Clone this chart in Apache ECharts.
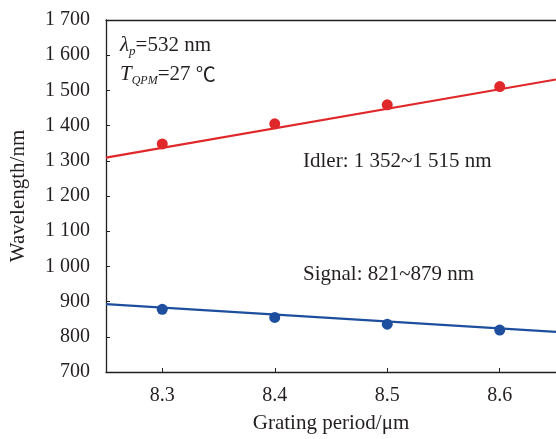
<!DOCTYPE html>
<html>
<head>
<meta charset="utf-8">
<script src="https://cdn.jsdelivr.net/npm/echarts@6/dist/echarts.min.js"></script>
<style>html,body{margin:0;padding:0;background:#fff;}#c{width:556px;height:439px;}</style>
</head>
<body>
<div id="c"></div>
<script>
const period = [8.3, 8.4, 8.5, 8.6];
const idler = [1348, 1405, 1459, 1511];
const signal = [878, 855, 836, 819];
const fitX = [8.25, 8.65];
const idlerFit = [1309, 1531];
const signalFit = [893, 814];
const xTicks = [8.3, 8.4, 8.5, 8.6];

const FONT = "'Times New Roman', 'Liberation Serif', 'DejaVu Serif', serif";
const TXT = '#231f20';
const RED = '#e0282a';
const BLUE = '#1e4f9e';

function fmtY(v) {
  const s = String(v);
  return s.length > 3 ? s.slice(0, s.length - 3) + ' ' + s.slice(-3) : s;
}
function pairs(xs, ys) { return xs.map((x, i) => [x, ys[i]]); }

const chart = echarts.init(document.getElementById('c'), null, {renderer: 'canvas'});
const base = {fontFamily: FONT, fontSize: 21, color: TXT};
chart.setOption({
  animation: false,
  backgroundColor: '#fff',
  textStyle: {fontFamily: FONT},
  grid: {left: 104, right: -3, top: 20, bottom: 66},
  xAxis: [{
    type: 'value', min: 8.25, max: 8.65,
    name: 'Grating period/\u03bcm', nameLocation: 'middle', nameGap: 41,
    nameTextStyle: base,
    axisLine: {show: true, onZero: false, lineStyle: {color: TXT, width: 1.3}},
    axisTick: {show: true, inside: true, length: 4, lineStyle: {color: TXT}, customValues: xTicks},
    axisLabel: {fontFamily: FONT, fontSize: 20, color: TXT, margin: 14, customValues: xTicks,
      formatter: v => v.toFixed(1)},
    splitLine: {show: false}
  }, {
    type: 'value', min: 8.25, max: 8.65, position: 'top',
    axisLine: {show: true, onZero: false, lineStyle: {color: TXT, width: 1.3}},
    axisTick: {show: false}, axisLabel: {show: false}, splitLine: {show: false}
  }],
  yAxis: {
    type: 'value', min: 700, max: 1700, interval: 100,
    name: 'Wavelength/nm', nameLocation: 'middle', nameGap: 77,
    nameTextStyle: base,
    axisLine: {show: true, lineStyle: {color: TXT, width: 1.3}},
    axisTick: {show: true, inside: true, length: 4, lineStyle: {color: TXT}},
    axisLabel: {fontFamily: FONT, fontSize: 20, color: TXT, margin: 16, formatter: fmtY},
    splitLine: {show: false}
  },
  series: [
    {type: 'line', data: pairs(fitX, idlerFit), symbol: 'none', lineStyle: {color: RED, width: 2.2}, z: 2},
    {type: 'line', data: pairs(fitX, signalFit), symbol: 'none', lineStyle: {color: BLUE, width: 2.2}, z: 2},
    {type: 'scatter', data: pairs(period, idler), symbolSize: 11, itemStyle: {color: RED, opacity: 1}, z: 3},
    {type: 'scatter', data: pairs(period, signal), symbolSize: 11, itemStyle: {color: BLUE, opacity: 1}, z: 3}
  ],
  graphic: [
    {type: 'text', left: 120, top: 35, style: {
      text: '{i|\u03bb}{s|p}{n|=532 nm}',
      rich: {
        i: {fontFamily: FONT, fontSize: 21, fontStyle: 'italic', fill: TXT, lineHeight: 25, verticalAlign: 'middle'},
        s: {fontFamily: FONT, fontSize: 13, fontStyle: 'italic', fill: TXT, lineHeight: 13, verticalAlign: 'bottom'},
        n: {fontFamily: FONT, fontSize: 21, fill: TXT, lineHeight: 25, verticalAlign: 'middle'}
      }}},
    {type: 'text', left: 120, top: 64, style: {
      text: '{i|T}{s|QPM}{n|=27 }{c|\u2103}',
      rich: {
        i: {fontFamily: FONT, fontSize: 21, fontStyle: 'italic', fill: TXT, lineHeight: 25, verticalAlign: 'middle'},
        s: {fontFamily: FONT, fontSize: 12, fontStyle: 'italic', fill: TXT, lineHeight: 12, verticalAlign: 'bottom'},
        n: {fontFamily: FONT, fontSize: 21, fill: TXT, lineHeight: 25, verticalAlign: 'middle'},
        c: {fontFamily: "'Noto Sans CJK SC', 'DejaVu Serif', serif", fontSize: 20, fontWeight: 'normal', fill: TXT, lineHeight: 25, verticalAlign: 'middle'}
      }}},
    {type: 'text', left: 303, top: 151, style: {text: 'Idler: 1 352~1 515 nm', font: '21px ' + FONT, fill: TXT}},
    {type: 'text', left: 303, top: 264, style: {text: 'Signal: 821~879 nm', font: '21px ' + FONT, fill: TXT}}
  ]
});
</script>
</body>
</html>
